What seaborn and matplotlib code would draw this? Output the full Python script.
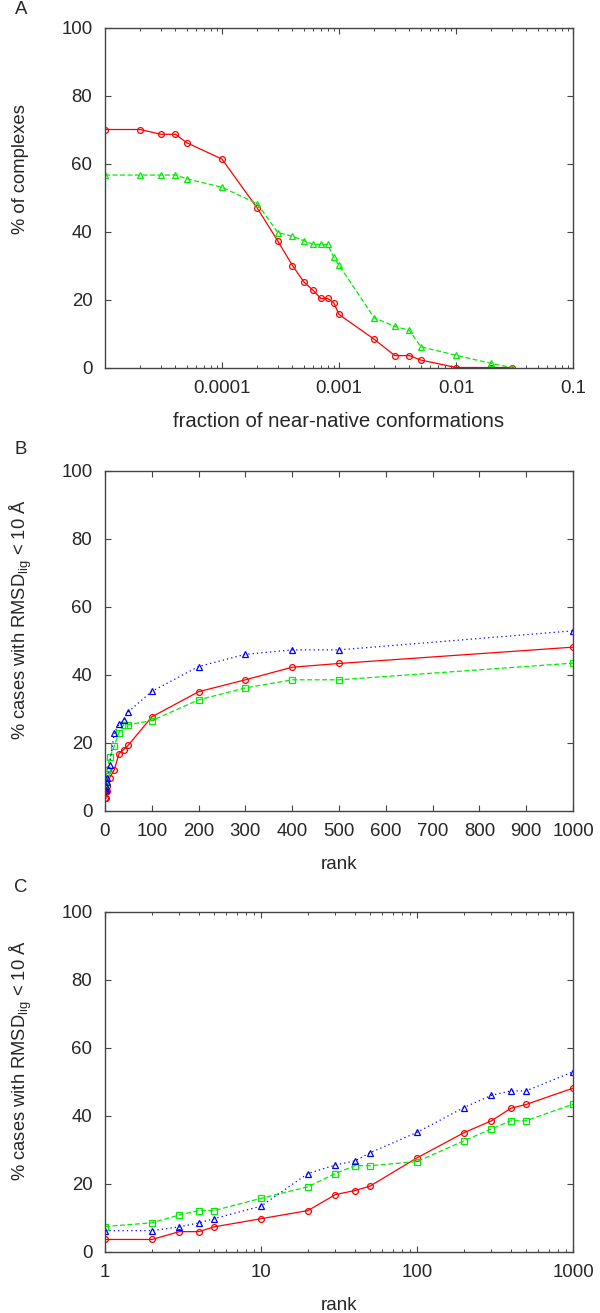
import numpy as np
import pandas as pd
import seaborn as sns
import matplotlib
matplotlib.use("Agg")
import matplotlib.pyplot as plt
from matplotlib.ticker import FixedLocator, LogLocator, NullFormatter, FixedFormatter

# === データ ===
# panel A: fraction of near-native conformations
frac = [1e-5, 2e-5, 3e-5, 4e-5, 5e-5, 1e-4, 2e-4, 3e-4, 4e-4, 5e-4, 6e-4,
        7e-4, 8e-4, 9e-4, 1e-3, 2e-3, 3e-3, 4e-3, 5e-3, 1e-2, 2e-2, 3e-2]
a_red = [70.0, 70.0, 68.6, 68.6, 66.1, 61.3, 46.9, 37.2, 30.0, 25.2, 22.7,
         20.3, 20.3, 19.1, 15.6, 8.3, 3.5, 3.5, 2.2, 0.0, 0.0, 0.0]
a_green = [56.6, 56.6, 56.6, 56.6, 55.5, 53.0, 48.2, 39.7, 38.6, 37.3, 36.2,
           36.2, 36.2, 32.5, 30.1, 14.6, 12.1, 10.9, 6.1, 3.6, 1.2, 0.0]

# panel B / C: rank
ranks = [1, 2, 3, 4, 5, 10, 20, 30, 40, 50, 100, 200, 300, 400, 500, 1000]
r_red = [3.6, 3.6, 5.9, 5.9, 7.3, 9.7, 12.1, 16.8, 18.0, 19.3, 27.6, 35.0,
         38.5, 42.2, 43.3, 48.1]
r_green = [7.4, 8.5, 10.8, 12.1, 12.1, 15.7, 19.1, 23.0, 25.3, 25.3, 26.5,
           32.6, 36.1, 38.5, 38.5, 43.4]
r_blue = [6.2, 6.2, 7.3, 8.5, 9.7, 13.4, 23.0, 25.5, 26.7, 29.1, 35.1, 42.4,
          46.0, 47.3, 47.3, 52.9]

sns.set_style("ticks")
plt.rcParams["font.family"] = ["Liberation Sans", "DejaVu Sans"]
plt.rcParams["mathtext.fontset"] = "custom"
plt.rcParams["mathtext.rm"] = "Liberation Sans"
plt.rcParams["mathtext.it"] = "Liberation Sans:italic"

FS_TICK = 13.4
FS_YLAB = 13.2
AXC = "#444444"

fig = plt.figure(figsize=(6.0, 13.13), dpi=100)
L, W = 105 / 600, 468 / 600
H = 340 / 1313
axA = fig.add_axes([L, 1 - 367.5 / 1313, W, H])
axB = fig.add_axes([L, 1 - 810.7 / 1313, W, H])
axC = fig.add_axes([L, 1 - 1251.7 / 1313, W, H])


def draw(ax, x, y, color, ls, marker):
    sns.lineplot(x=x, y=y, ax=ax, color=color, linestyle=ls, linewidth=0.9,
                 marker=marker, markersize=4.2, markerfacecolor="none",
                 markeredgecolor=color, markeredgewidth=0.9,
                 estimator=None, sort=False)


RED, GREEN, BLUE = "#ff0000", "#00ee00", "#0000ff"

draw(axA, frac, a_red, RED, "-", "o")
draw(axA, frac, a_green, GREEN, (0, (4, 2)), "^")

for ax in (axB, axC):
    draw(ax, ranks, r_red, RED, "-", "o")
    draw(ax, ranks, r_green, GREEN, (0, (4, 2)), "s")
    draw(ax, ranks, r_blue, BLUE, (0, (1, 2.5)), "^")

# A axis
axA.set_xscale("log")
axA.set_xlim(1e-5, 0.1)
axA.xaxis.set_major_locator(FixedLocator([1e-4, 1e-3, 1e-2, 1e-1]))
axA.xaxis.set_major_formatter(FixedFormatter(["0.0001", "0.001", "0.01", "0.1"]))
axA.xaxis.set_minor_locator(LogLocator(base=10, subs=np.arange(2, 10)))
axA.xaxis.set_minor_formatter(NullFormatter())
axA.set_xlabel("fraction of near-native conformations", fontsize=14.7)
axA.set_ylabel("% of complexes", fontsize=FS_YLAB)

# B axis
axB.set_xlim(0, 1000)
axB.set_xticks(range(0, 1001, 100))
axB.set_xlabel("rank", fontsize=13.5)

# C axis
axC.set_xscale("log")
axC.set_xlim(1, 1000)
axC.xaxis.set_major_locator(FixedLocator([1, 10, 100, 1000]))
axC.xaxis.set_major_formatter(FixedFormatter(["1", "10", "100", "1000"]))
axC.xaxis.set_minor_locator(LogLocator(base=10, subs=np.arange(2, 10)))
axC.xaxis.set_minor_formatter(NullFormatter())
axC.set_xlabel("rank", fontsize=13.5)

ylab = "% cases with RMSD$_{\\mathrm{lig}}$ < 10 \u00c5"
axB.set_ylabel(ylab, fontsize=FS_YLAB)
axC.set_ylabel(ylab, fontsize=FS_YLAB)

for ax in (axA, axB, axC):
    ax.set_ylim(0, 100)
    ax.set_yticks(range(0, 101, 20))
    for s in ax.spines.values():
        s.set_visible(True)
        s.set_color(AXC)
        s.set_linewidth(1.0)
    ax.tick_params(which="major", direction="in", length=4.5, width=0.8,
                   color=AXC, labelsize=FS_TICK, pad=9,
                   top=True, right=True)
    ax.tick_params(which="minor", direction="in", length=2.5, width=0.7,
                   color=AXC, top=True, right=True)
    ax.xaxis.set_label_coords(0.5, -0.132)
    ax.grid(False)

# ylabel は少し上寄せ
axA.yaxis.set_label_coords(-0.162, 0.585)
axB.yaxis.set_label_coords(-0.152, 0.561)
axC.yaxis.set_label_coords(-0.152, 0.561)

fig.text(21 / 600, 1 - 10 / 1313, "A", fontsize=FS_TICK, ha="center", va="center")
fig.text(21 / 600, 1 - 450 / 1313, "B", fontsize=FS_TICK, ha="center", va="center")
fig.text(21 / 600, 1 - 888 / 1313, "C", fontsize=FS_TICK, ha="center", va="center")

fig.savefig("out.png", dpi=100)
